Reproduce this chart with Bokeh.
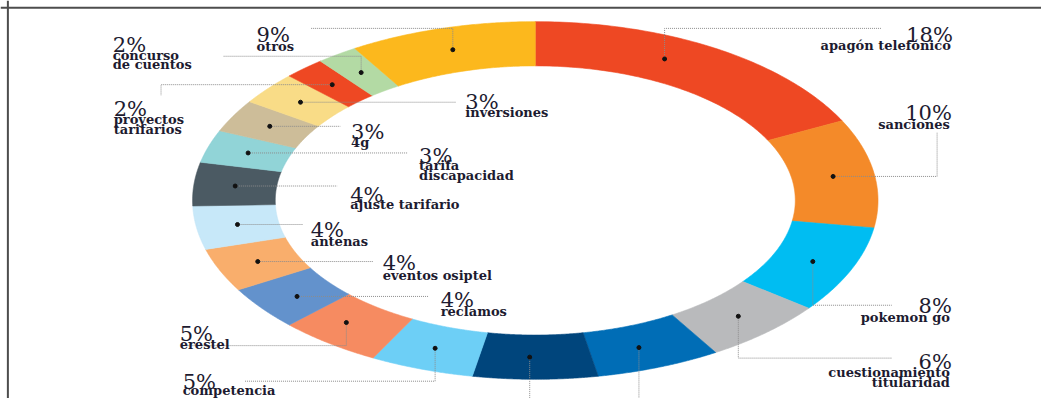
import numpy as np
from bokeh.plotting import figure
from bokeh.models import Range1d, Span
from bokeh.core.properties import value
from bokeh.embed import file_html
from bokeh.resources import INLINE

# ---------------- data ----------------
categories = ["apagón telefónico", "sanciones", "pokemon go", "cuestionamiento titularidad",
              "(sin etiqueta 1)", "(sin etiqueta 2)", "competencia", "erestel", "reclamos",
              "eventos osiptel", "antenas", "ajuste tarifario", "tarifa discapacidad", "4g",
              "inversiones", "proyectos tarifarios", "concurso de cuentos", "otros"]
percents = [18, 10, 8, 6, 6, 6, 5, 5, 4, 4, 4, 4, 3, 3, 3, 2, 2, 9]
label_lines = [["apagón telefónico"], ["sanciones"], ["pokemon go"],
               ["cuestionamiento", "titularidad"], [], [], ["competencia"], ["erestel"],
               ["reclamos"], ["eventos osiptel"], ["antenas"], ["ajuste tarifario"],
               ["tarifa", "discapacidad"], ["4g"], ["inversiones"],
               ["proyectos", "tarifarios"], ["concurso", "de cuentos"], ["otros"]]
colors = ["#EE4823", "#F48A29", "#00BDF2", "#B9BABC", "#006DB6", "#00457C", "#6DCFF6",
          "#F68B61", "#6392CC", "#F9AE6C", "#C7E8F9", "#4B5A63", "#91D4D7", "#CDBD99",
          "#F9DC87", "#EE4823", "#B3DAA4", "#FCB81D"]

# ---------------- layout (reference pixel space 1057 x 414) ----------------
W, H = 1041, 398
CX, CY = 543, 208
RX_OUT, RY_OUT = 348, 186
RX_IN, RY_IN = 264, 140
# pct label: (x, baseline, align), label baselines, leader spec, dot fraction in segment
layout = [
    ((967, 36, "right"), [47], ("vh", 29, 894), 0.4),
    ((966, 117, "right"), [129], ("hv", 951, 137), 0.5),
    ((966, 318, "right"), [330], ("vh", 317, 905), 0.5),
    ((966, 376, "right"), [387, 397], ("vh", 372, 905), 0.5),
    (None, [], ("v", None, 440), 0.55),
    (None, [], ("v", None, 440), 0.55),
    ((185, 397, "left"), [406], ("vh", 396, 248), 0.5),
    ((182, 347, "left"), [358], ("vh", 359, 185), 0.6),
    ((447, 312, "left"), [324], ("h", 435, None), 0.45),
    ((388, 273, "left"), [286], ("h", 378, None), 0.5),
    ((315, 239, "left"), [251], ("h", 307, None), 0.5),
    ((355, 202, "left"), [212], ("h", 342, None), 0.5),
    ((425, 162, "left"), [172, 182], ("h", 413, None), 0.5),
    ((356, 137, "left"), [148], ("h", 345, None), 0.5),
    ((472, 106, "left"), [117], ("h", 462, None), 0.5),
    ((115, 113, "left"), [124, 134], ("hv", 163, 99), 0.5),
    ((114, 46, "left"), [57, 67], ("vh", 58, 226), 0.5),
    ((260, 36, "left"), [48], ("vh", 29, 315), 0.5),
]

TEXT_COLOR = "#1d1b30"
FONT = value("DejaVu Serif")

p = figure(width=W, height=H, output_backend="svg", toolbar_location=None,
           x_range=Range1d(0, 1057), y_range=Range1d(414, 0),
           x_axis_type=None, y_axis_type=None, min_border=0,
           background_fill_color="white", border_fill_color="white")
p.grid.visible = False
p.outline_line_color = None

total = float(sum(percents))
cum = np.concatenate([[0.0], np.cumsum(percents)])
start_deg = 90.0 - cum[:-1] / total * 360.0
end_deg = 90.0 - cum[1:] / total * 360.0

xs, ys = [], []
for a0, a1 in zip(start_deg, end_deg):
    t = np.radians(np.linspace(a0, a1, 80))
    ox = CX + RX_OUT * np.cos(t)
    oy = CY - RY_OUT * np.sin(t)
    ix = CX + RX_IN * np.cos(t[::-1])
    iy = CY - RY_IN * np.sin(t[::-1])
    xs.append(list(np.concatenate([ox, ix])))
    ys.append(list(np.concatenate([oy, iy])))

p.patches(xs, ys, fill_color=colors, line_color=colors, line_width=0.6)

# dots and leaders
rxm, rym = (RX_OUT + RX_IN) / 2, (RY_OUT + RY_IN) / 2
dx, dy, lxs, lys = [], [], [], []
for i, (a0, a1) in enumerate(zip(start_deg, end_deg)):
    frac = layout[i][3]
    a = np.radians(a0 + (a1 - a0) * frac)
    x0 = CX + rxm * np.cos(a)
    y0 = CY - rym * np.sin(a)
    dx.append(x0)
    dy.append(y0)
    kind, u, v = layout[i][2]
    if kind == "h":
        lxs.append([x0, u]); lys.append([y0, y0])
    elif kind == "v":
        lxs.append([x0, x0]); lys.append([y0, v])
    elif kind == "vh":
        lxs.append([x0, x0, v]); lys.append([y0, u, u])
    else:  # "hv"
        lxs.append([x0, u, u]); lys.append([y0, y0, v])

p.multi_line(lxs, lys, line_color="#8c8c8c", line_width=1, line_dash="1 1")
p.scatter(dx, dy, size=4, color="#111111")

# texts
for align in ("left", "right"):
    px, py, pt = [], [], []
    lx, ly, lt = [], [], []
    for i, cat in enumerate(categories):
        spec = layout[i][0]
        if spec is None or spec[2] != align:
            continue
        px.append(spec[0]); py.append(spec[1]); pt.append(f"{percents[i]}%")
        lxo = spec[0] - 2 if align == "right" else spec[0]
        for line, base in zip(label_lines[i], layout[i][1]):
            lx.append(lxo); ly.append(base); lt.append(line)
    p.text(px, py, text=pt, text_align=align, text_baseline="alphabetic",
           text_font=FONT, text_font_size="21px", text_color=TEXT_COLOR)
    p.text(lx, ly, text=lt, text_align=align, text_baseline="alphabetic",
           text_font=FONT, text_font_size="13px", text_font_style="bold",
           text_color=TEXT_COLOR)

# frame lines (top and left only)
p.add_layout(Span(location=7.5, dimension="width", line_color="#4d4d4d", line_width=2))
p.add_layout(Span(location=7.5, dimension="height", line_color="#4d4d4d", line_width=2))

open("out.html", "w").write(file_html(p, INLINE))
